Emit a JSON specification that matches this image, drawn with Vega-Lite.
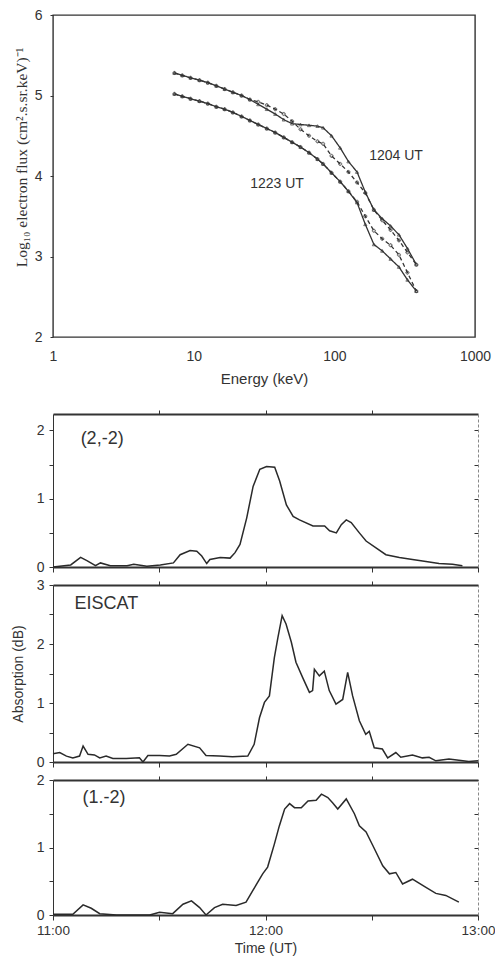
{
  "$schema": "https://vega.github.io/schema/vega-lite/v6.json",
  "padding": {"top": 7, "left": 11, "right": 0, "bottom": 0},
  "background": "white",
  "config": {
    "view": {"stroke": "#333", "strokeWidth": 1.4},
    "font": "Liberation Sans",
    "axis": {"labelFont": "Liberation Sans", "labelFontSize": 14, "labelColor": "#333", "titleColor": "#333", "titleFontWeight": "normal", "titleFont": "Liberation Sans", "titleFontSize": 14, "domainColor": "#333", "tickColor": "#333", "grid": false, "labelOverlap": false}
  },
  "datasets": {
    "spectra": [
      {"energy": 7.3, "obs1204": 5.28, "fit1204": 5.28, "obs1223": 5.02, "fit1223": 5.02},
      {"energy": 8.3, "obs1204": 5.25, "fit1204": 5.25, "obs1223": 4.99, "fit1223": 4.99},
      {"energy": 9.5, "obs1204": 5.22, "fit1204": 5.22, "obs1223": 4.96, "fit1223": 4.96},
      {"energy": 11.0, "obs1204": 5.19, "fit1204": 5.19, "obs1223": 4.93, "fit1223": 4.93},
      {"energy": 12.6, "obs1204": 5.16, "fit1204": 5.16, "obs1223": 4.90, "fit1223": 4.90},
      {"energy": 14.5, "obs1204": 5.12, "fit1204": 5.12, "obs1223": 4.86, "fit1223": 4.86},
      {"energy": 16.6, "obs1204": 5.08, "fit1204": 5.08, "obs1223": 4.83, "fit1223": 4.83},
      {"energy": 19.0, "obs1204": 5.04, "fit1204": 5.04, "obs1223": 4.79, "fit1223": 4.79},
      {"energy": 21.9, "obs1204": 5.00, "fit1204": 5.00, "obs1223": 4.74, "fit1223": 4.74},
      {"energy": 25.1, "obs1204": 4.95, "fit1204": 4.95, "obs1223": 4.69, "fit1223": 4.69},
      {"energy": 28.8, "obs1204": 4.89, "fit1204": 4.92, "obs1223": 4.64, "fit1223": 4.64},
      {"energy": 33.1, "obs1204": 4.83, "fit1204": 4.88, "obs1223": 4.59, "fit1223": 4.59},
      {"energy": 38.0, "obs1204": 4.77, "fit1204": 4.83, "obs1223": 4.54, "fit1223": 4.54},
      {"energy": 43.7, "obs1204": 4.70, "fit1204": 4.77, "obs1223": 4.48, "fit1223": 4.48},
      {"energy": 50.1, "obs1204": 4.65, "fit1204": 4.68, "obs1223": 4.42, "fit1223": 4.42},
      {"energy": 57.5, "obs1204": 4.64, "fit1204": 4.58, "obs1223": 4.36, "fit1223": 4.36},
      {"energy": 66.1, "obs1204": 4.63, "fit1204": 4.50, "obs1223": 4.29, "fit1223": 4.29},
      {"energy": 75.9, "obs1204": 4.62, "fit1204": 4.43, "obs1223": 4.21, "fit1223": 4.21},
      {"energy": 83.2, "obs1204": 4.60, "fit1204": 4.40, "obs1223": 4.15, "fit1223": 4.15},
      {"energy": 95.5, "obs1204": 4.50, "fit1204": 4.25, "obs1223": 4.04, "fit1223": 4.04},
      {"energy": 110, "obs1204": 4.35, "fit1204": 4.15, "obs1223": 3.93, "fit1223": 3.93},
      {"energy": 126, "obs1204": 4.18, "fit1204": 4.05, "obs1223": 3.81, "fit1223": 3.81},
      {"energy": 145, "obs1204": 4.05, "fit1204": 3.92, "obs1223": 3.67, "fit1223": 3.68},
      {"energy": 166, "obs1204": 3.80, "fit1204": 3.79, "obs1223": 3.40, "fit1223": 3.50},
      {"energy": 191, "obs1204": 3.58, "fit1204": 3.58, "obs1223": 3.15, "fit1223": 3.32},
      {"energy": 219, "obs1204": 3.47, "fit1204": 3.45, "obs1223": 3.07, "fit1223": 3.22},
      {"energy": 251, "obs1204": 3.38, "fit1204": 3.33, "obs1223": 2.97, "fit1223": 3.14},
      {"energy": 288, "obs1204": 3.27, "fit1204": 3.20, "obs1223": 2.87, "fit1223": 3.02},
      {"energy": 331, "obs1204": 3.10, "fit1204": 3.05, "obs1223": 2.71, "fit1223": 2.80},
      {"energy": 383, "obs1204": 2.90, "fit1204": 2.90, "obs1223": 2.57, "fit1223": 2.57}
    ],
    "spectraLabels": [
      {"energy": 177, "flux": 4.25, "label": "1204 UT"},
      {"energy": 25.2, "flux": 3.90, "label": "1223 UT"}
    ],
    "panelLabels": [
      {"panel": 1, "min": 7.8, "dB": 1.88, "label": "(2,-2)"},
      {"panel": 2, "min": 6.1, "dB": 2.68, "label": "EISCAT"},
      {"panel": 3, "min": 8.3, "dB": 1.73, "label": "(1.-2)"}
    ],
    "p1": [
      {"min": 0, "dB": 0}, {"min": 5, "dB": 0.03}, {"min": 7.8, "dB": 0.14}, {"min": 9.7, "dB": 0.09}, {"min": 12, "dB": 0.02}, {"min": 13.4, "dB": 0.06}, {"min": 16.2, "dB": 0.02}, {"min": 20.9, "dB": 0.02}, {"min": 22.8, "dB": 0.04}, {"min": 26.5, "dB": 0.01}, {"min": 30.3, "dB": 0.03}, {"min": 34, "dB": 0.06}, {"min": 35.9, "dB": 0.18}, {"min": 38.7, "dB": 0.24}, {"min": 40.6, "dB": 0.23}, {"min": 42, "dB": 0.16}, {"min": 43.4, "dB": 0.05}, {"min": 44.3, "dB": 0.11}, {"min": 47.2, "dB": 0.14}, {"min": 50, "dB": 0.13}, {"min": 51.4, "dB": 0.21}, {"min": 52.8, "dB": 0.33}, {"min": 54.7, "dB": 0.72}, {"min": 56.5, "dB": 1.18}, {"min": 58.4, "dB": 1.43}, {"min": 60.3, "dB": 1.47}, {"min": 62.6, "dB": 1.46}, {"min": 64, "dB": 1.26}, {"min": 65.9, "dB": 0.91}, {"min": 67.8, "dB": 0.74}, {"min": 69.6, "dB": 0.69}, {"min": 73.4, "dB": 0.6}, {"min": 76.7, "dB": 0.6}, {"min": 78.1, "dB": 0.53}, {"min": 80, "dB": 0.5}, {"min": 81.4, "dB": 0.62}, {"min": 82.8, "dB": 0.69}, {"min": 84.2, "dB": 0.65}, {"min": 86.5, "dB": 0.5}, {"min": 88.4, "dB": 0.38}, {"min": 91.2, "dB": 0.28}, {"min": 94, "dB": 0.18}, {"min": 97.8, "dB": 0.14}, {"min": 101.5, "dB": 0.11}, {"min": 105.3, "dB": 0.08}, {"min": 109, "dB": 0.05}, {"min": 112.8, "dB": 0.04}, {"min": 115.6, "dB": 0.02}
    ],
    "p2": [
      {"min": 0, "dB": 0.14}, {"min": 1.9, "dB": 0.16}, {"min": 3.8, "dB": 0.1}, {"min": 5.6, "dB": 0.07}, {"min": 7.5, "dB": 0.1}, {"min": 8.5, "dB": 0.27}, {"min": 9.9, "dB": 0.13}, {"min": 11.7, "dB": 0.12}, {"min": 13.2, "dB": 0.07}, {"min": 15, "dB": 0.1}, {"min": 16.9, "dB": 0.06}, {"min": 20.7, "dB": 0.06}, {"min": 24.4, "dB": 0.07}, {"min": 25.4, "dB": 0}, {"min": 26.8, "dB": 0.11}, {"min": 30.1, "dB": 0.11}, {"min": 32.9, "dB": 0.1}, {"min": 34.8, "dB": 0.13}, {"min": 38.1, "dB": 0.3}, {"min": 41.4, "dB": 0.24}, {"min": 43.2, "dB": 0.11}, {"min": 47, "dB": 0.1}, {"min": 50.7, "dB": 0.09}, {"min": 55, "dB": 0.1}, {"min": 56.8, "dB": 0.3}, {"min": 58.3, "dB": 0.75}, {"min": 59.7, "dB": 1.01}, {"min": 61.1, "dB": 1.12}, {"min": 62.5, "dB": 1.77}, {"min": 63.5, "dB": 2.11}, {"min": 64.7, "dB": 2.48}, {"min": 65.8, "dB": 2.34}, {"min": 67.3, "dB": 2.03}, {"min": 68.6, "dB": 1.69}, {"min": 70.5, "dB": 1.43}, {"min": 72.4, "dB": 1.18}, {"min": 73.3, "dB": 1.21}, {"min": 73.8, "dB": 1.57}, {"min": 75.2, "dB": 1.46}, {"min": 76.6, "dB": 1.54}, {"min": 78, "dB": 1.21}, {"min": 79.9, "dB": 0.98}, {"min": 81.8, "dB": 1.06}, {"min": 83.2, "dB": 1.52}, {"min": 84.6, "dB": 1.12}, {"min": 86.5, "dB": 0.7}, {"min": 88.3, "dB": 0.47}, {"min": 89.3, "dB": 0.52}, {"min": 90.7, "dB": 0.24}, {"min": 93, "dB": 0.22}, {"min": 94.5, "dB": 0.07}, {"min": 96.8, "dB": 0.16}, {"min": 98.2, "dB": 0.08}, {"min": 101.5, "dB": 0.12}, {"min": 104.3, "dB": 0.07}, {"min": 106.2, "dB": 0.08}, {"min": 108.1, "dB": 0.02}, {"min": 111.8, "dB": 0.05}, {"min": 114.6, "dB": 0.03}, {"min": 117.4, "dB": 0.01}, {"min": 120, "dB": 0.02}
    ],
    "p3": [
      {"min": 0, "dB": 0.01}, {"min": 5.6, "dB": 0.01}, {"min": 8.5, "dB": 0.15}, {"min": 10.8, "dB": 0.1}, {"min": 13.2, "dB": 0.02}, {"min": 17.9, "dB": 0}, {"min": 27.3, "dB": 0}, {"min": 30.1, "dB": 0.04}, {"min": 33.8, "dB": 0.02}, {"min": 36.7, "dB": 0.16}, {"min": 39.1, "dB": 0.21}, {"min": 41.4, "dB": 0.11}, {"min": 43.2, "dB": 0}, {"min": 45.6, "dB": 0.11}, {"min": 47.9, "dB": 0.16}, {"min": 51.7, "dB": 0.14}, {"min": 54.5, "dB": 0.19}, {"min": 56.4, "dB": 0.36}, {"min": 59.2, "dB": 0.61}, {"min": 60.6, "dB": 0.71}, {"min": 62.5, "dB": 1.05}, {"min": 63.9, "dB": 1.32}, {"min": 65.4, "dB": 1.57}, {"min": 66.8, "dB": 1.65}, {"min": 68.2, "dB": 1.59}, {"min": 70.1, "dB": 1.59}, {"min": 72, "dB": 1.69}, {"min": 74.3, "dB": 1.7}, {"min": 75.8, "dB": 1.79}, {"min": 77.6, "dB": 1.74}, {"min": 79, "dB": 1.66}, {"min": 80.4, "dB": 1.57}, {"min": 82.8, "dB": 1.72}, {"min": 85.1, "dB": 1.5}, {"min": 86.5, "dB": 1.32}, {"min": 88.4, "dB": 1.23}, {"min": 90.3, "dB": 1.03}, {"min": 93.1, "dB": 0.73}, {"min": 95, "dB": 0.61}, {"min": 96.8, "dB": 0.63}, {"min": 98.7, "dB": 0.46}, {"min": 101.5, "dB": 0.53}, {"min": 105.3, "dB": 0.41}, {"min": 108.1, "dB": 0.32}, {"min": 110.9, "dB": 0.29}, {"min": 114.6, "dB": 0.19}
    ]
  },
  "bounds": "flush",
  "spacing": 77,
  "vconcat": [
    {
      "width": 422,
      "height": 322,
      "layer": [
        {
          "data": {"name": "spectra"},
          "transform": [{"fold": ["obs1204", "fit1204", "obs1223", "fit1223"], "as": ["series", "flux"]}],
          "mark": {"type": "line", "color": "#333", "strokeWidth": 1.3},
          "encoding": {
            "x": {"field": "energy", "type": "quantitative", "scale": {"type": "log", "domain": [1, 1000]},
              "axis": {"values": [1, 10, 100, 1000], "labelExpr": "format(datum.value, 'd')", "ticks": false, "labelPadding": 12, "labelFlush": false, "domain": false, "title": "Energy (keV)", "titleFontSize": 15, "titlePadding": 8}},
            "y": {"field": "flux", "type": "quantitative", "scale": {"domain": [2, 6], "nice": false},
              "axis": {"values": [2, 3, 4, 5, 6], "labelExpr": "format(datum.value, 'd')", "tickSize": 3, "labelPadding": 8, "domain": false, "labelFlush": false, "title": "Log₁₀ electron flux (cm².s.sr.keV)⁻¹", "titleFont": "Liberation Serif", "titleFontSize": 15.5, "titlePadding": 5, "titleY": 142}},
            "detail": {"field": "series"},
            "strokeDash": {"field": "series", "type": "nominal", "scale": {"domain": ["obs1204", "fit1204", "obs1223", "fit1223"], "range": [[1, 0], [4, 3], [1, 0], [4, 3]]}, "legend": null}
          }
        },
        {
          "data": {"name": "spectra"},
          "transform": [{"fold": ["obs1204", "fit1204", "obs1223", "fit1223"], "as": ["series", "flux"]}],
          "mark": {"type": "point", "color": "#333", "size": 10, "filled": false, "strokeWidth": 1},
          "encoding": {
            "x": {"field": "energy", "type": "quantitative"},
            "y": {"field": "flux", "type": "quantitative"},
            "shape": {"field": "series", "type": "nominal", "scale": {"domain": ["obs1204", "fit1204", "obs1223", "fit1223"], "range": ["triangle-up", "cross", "triangle-up", "cross"]}, "legend": null}
          }
        },
        {
          "data": {"name": "spectraLabels"},
          "mark": {"type": "text", "align": "left", "baseline": "middle", "fontSize": 14, "color": "#333"},
          "encoding": {
            "x": {"field": "energy", "type": "quantitative"},
            "y": {"field": "flux", "type": "quantitative"},
            "text": {"field": "label"}
          }
        }
      ]
    },
    {
      "bounds": "flush",
      "spacing": 18,
      "vconcat": [
        {
          "width": 425, "height": 153,
          "view": {"stroke": null},
          "layer": [
            {
              "data": {"name": "p1"},
              "mark": {"type": "line", "color": "#2a2a2a", "strokeWidth": 1.5},
              "encoding": {
                "x": {"field": "min", "type": "quantitative", "scale": {"domain": [0, 120]}, "axis": {"values": [0, 30, 60, 90, 120], "labels": false, "tickSize": 5, "domainWidth": 2, "title": null}},
                "y": {"field": "dB", "type": "quantitative", "scale": {"domain": [0, 2.24], "nice": false}, "axis": {"values": [0, 0.5, 1, 1.5, 2], "labelExpr": "datum.value % 1 == 0 ? format(datum.value, 'd') : ''", "tickSize": 4, "labelPadding": 5, "title": null}}
              }
            },
            {
              "data": {"name": "panelLabels"},
              "transform": [{"filter": "datum.panel == 1"}],
              "mark": {"type": "text", "align": "left", "baseline": "middle", "fontSize": 18, "color": "#333"},
              "encoding": {
                "x": {"field": "min", "type": "quantitative", "axis": {"orient": "top", "values": [30, 60, 90], "labels": false, "tickSize": 4, "domainWidth": 2, "title": null}},
                "y": {"field": "dB", "type": "quantitative", "axis": {"orient": "right", "values": [0, 0.5, 1, 1.5, 2], "labels": false, "tickSize": -4, "domainDash": [3, 2], "domainColor": "#888", "title": null}},
                "text": {"field": "label"}
              }
            }
          ],
          "resolve": {"axis": {"x": "independent", "y": "independent"}}
        },
        {
          "width": 425, "height": 177,
          "view": {"stroke": null},
          "layer": [
            {
              "data": {"name": "p2"},
              "mark": {"type": "line", "color": "#2a2a2a", "strokeWidth": 1.5},
              "encoding": {
                "x": {"field": "min", "type": "quantitative", "scale": {"domain": [0, 120]}, "axis": {"values": [0, 30, 60, 90, 120], "labels": false, "tickSize": 5, "domainWidth": 2, "title": null}},
                "y": {"field": "dB", "type": "quantitative", "scale": {"domain": [0, 3], "nice": false}, "axis": {"values": [0, 0.5, 1, 1.5, 2, 2.5, 3], "labelExpr": "datum.value % 1 == 0 ? format(datum.value, 'd') : ''", "tickSize": 4, "labelPadding": 5, "title": "Absorption (dB)", "titlePadding": 11}}
              }
            },
            {
              "data": {"name": "panelLabels"},
              "transform": [{"filter": "datum.panel == 2"}],
              "mark": {"type": "text", "align": "left", "baseline": "middle", "fontSize": 18, "color": "#333"},
              "encoding": {
                "x": {"field": "min", "type": "quantitative", "axis": {"orient": "top", "values": [30, 60, 90], "labels": false, "tickSize": 4, "domainWidth": 2, "title": null}},
                "y": {"field": "dB", "type": "quantitative", "axis": {"orient": "right", "values": [0, 0.5, 1, 1.5, 2, 2.5, 3], "labels": false, "tickSize": -4, "domainDash": [3, 2], "domainColor": "#888", "title": null}},
                "text": {"field": "label"}
              }
            }
          ],
          "resolve": {"axis": {"x": "independent", "y": "independent"}}
        },
        {
          "width": 425, "height": 135,
          "view": {"stroke": null},
          "layer": [
            {
              "data": {"name": "p3"},
              "mark": {"type": "line", "color": "#2a2a2a", "strokeWidth": 1.5},
              "encoding": {
                "x": {"field": "min", "type": "quantitative", "scale": {"domain": [0, 120]}, "axis": {"values": [0, 30, 60, 90, 120], "labelExpr": "datum.value == 0 ? '11:00' : datum.value == 60 ? '12:00' : datum.value == 120 ? '13:00' : ''", "labelFlush": false, "labelFontSize": 13.5, "tickSize": 5, "labelPadding": 3, "domainWidth": 2, "title": "Time (UT)", "titlePadding": 5}},
                "y": {"field": "dB", "type": "quantitative", "scale": {"domain": [0, 2], "nice": false}, "axis": {"values": [0, 0.5, 1, 1.5, 2], "labelExpr": "datum.value % 1 == 0 ? format(datum.value, 'd') : ''", "tickSize": 4, "labelPadding": 5, "title": null}}
              }
            },
            {
              "data": {"name": "panelLabels"},
              "transform": [{"filter": "datum.panel == 3"}],
              "mark": {"type": "text", "align": "left", "baseline": "middle", "fontSize": 18, "color": "#333"},
              "encoding": {
                "x": {"field": "min", "type": "quantitative", "axis": {"orient": "top", "values": [30, 60, 90], "labels": false, "tickSize": 4, "domainWidth": 2, "title": null}},
                "y": {"field": "dB", "type": "quantitative", "axis": {"orient": "right", "values": [0, 0.5, 1, 1.5, 2], "labels": false, "tickSize": -4, "domainDash": [3, 2], "domainColor": "#888", "title": null}},
                "text": {"field": "label"}
              }
            }
          ],
          "resolve": {"axis": {"x": "independent", "y": "independent"}}
        }
      ]
    }
  ]
}
